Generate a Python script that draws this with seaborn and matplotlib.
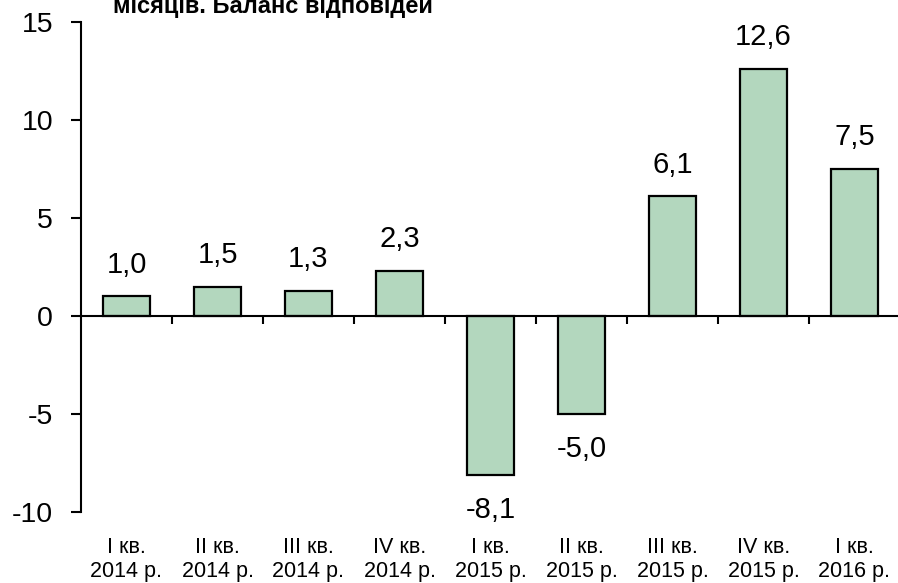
import matplotlib
matplotlib.use("Agg")
import matplotlib.pyplot as plt
import matplotlib.transforms as mtransforms
import seaborn as sns
import pandas as pd

quarters = ["I кв.", "II кв.", "III кв.", "IV кв.", "I кв.", "II кв.", "III кв.", "IV кв.", "I кв."]
years = ["2014 р.", "2014 р.", "2014 р.", "2014 р.", "2015 р.", "2015 р.", "2015 р.", "2015 р.", "2016 р."]
values = [1.0, 1.5, 1.3, 2.3, -8.1, -5.0, 6.1, 12.6, 7.5]
value_labels = ["1,0", "1,5", "1,3", "2,3", "-8,1", "-5,0", "6,1", "12,6", "7,5"]
yticks = [-10, -5, 0, 5, 10, 15]
title_text = "місяців. Баланс відповідей"

sns.set_theme(style="white")
plt.rcParams["font.family"] = ["Liberation Sans", "DejaVu Sans"]
plt.rcParams["text.color"] = "black"
plt.rcParams["xtick.color"] = "black"
plt.rcParams["ytick.color"] = "black"
plt.rcParams["axes.labelcolor"] = "black"

df = pd.DataFrame({"cat": [f"{q}\n{y}_{i}" for i, (q, y) in enumerate(zip(quarters, years))],
                   "val": values})

fig = plt.figure(figsize=(8.98, 5.83), dpi=100)
W, H = 898, 583
ax = fig.add_axes([81 / W, 1 - 512 / H, 819 / W, 490 / H])

sns.barplot(data=df, x="cat", y="val", color="#b3d7be", saturation=1,
            edgecolor="black", linewidth=1.6, width=0.52, ax=ax)

ax.set_xlim(-0.5, len(values) - 0.5)
ax.set_ylim(-10, 15)
ax.set_yticks(yticks)
ax.set_yticklabels([str(t) for t in yticks], fontsize=20.5, color="black")
ax.set_xlabel("")
ax.set_ylabel("")

for s in ["top", "right"]:
    ax.spines[s].set_visible(False)
ax.spines["left"].set_linewidth(1.5)
ax.spines["left"].set_color("black")
ax.spines["bottom"].set_position(("data", 0))
ax.spines["bottom"].set_linewidth(1.5)
ax.spines["bottom"].set_color("black")
ax.spines["bottom"].set_zorder(5)

ax.tick_params(axis="y", direction="out", length=7, width=1.5, pad=13, color="black", left=True)
ax.set_xticks([i + 0.5 for i in range(len(values) - 1)])
ax.set_xticklabels([])
ax.tick_params(axis="x", direction="out", length=6, width=1.5, color="black", bottom=True)

for i, (v, lab) in enumerate(zip(values, value_labels)):
    if v >= 0:
        ax.annotate(lab, (i, v), xytext=(0, 17), textcoords="offset points",
                    ha="center", va="baseline", fontsize=21, color="black")
    else:
        ax.annotate(lab, (i, v), xytext=(0, -15), textcoords="offset points",
                    ha="center", va="top", fontsize=21, color="black")

trans = mtransforms.blended_transform_factory(ax.transData, fig.transFigure)
for i, (q, y) in enumerate(zip(quarters, years)):
    ax.text(i, 1 - 553 / H, q, transform=trans, ha="center", va="baseline", fontsize=15.5, color="black")
    ax.text(i, 1 - 577 / H, y, transform=trans, ha="center", va="baseline", fontsize=15.5, color="black")

fig.text(113 / W, 1 - 13 / H, title_text, ha="left", va="baseline",
         fontsize=17, fontweight="bold", color="black")

fig.savefig("out.png", dpi=100)
